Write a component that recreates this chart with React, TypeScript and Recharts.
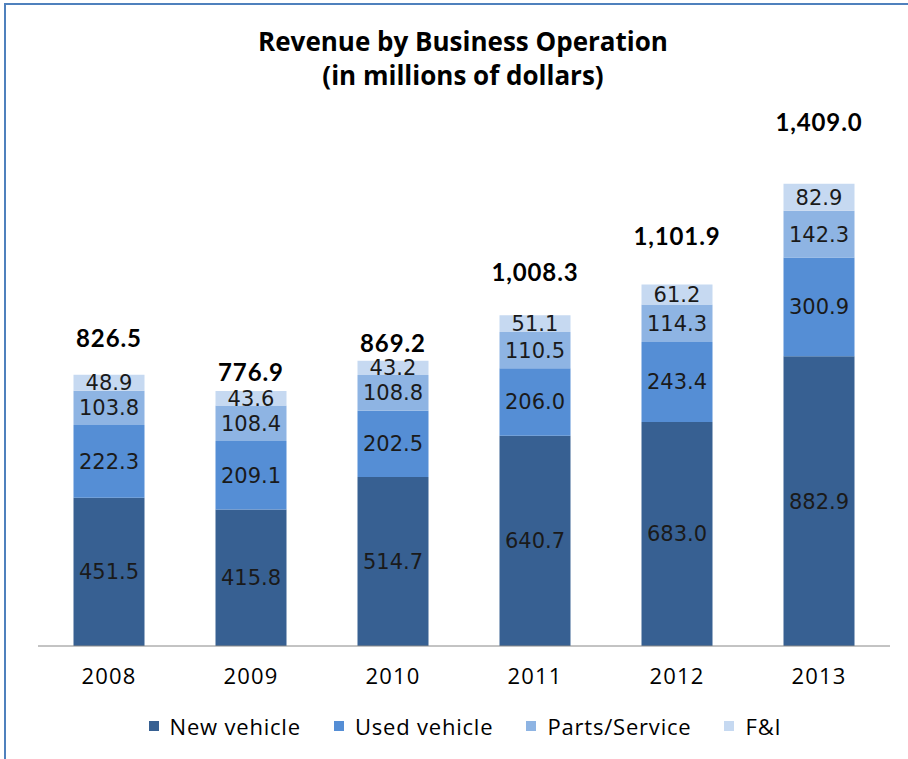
import React from "react";
import { ComposedChart, Bar, Line, XAxis, YAxis, LabelList, Legend } from "recharts";

const years = ["2008", "2009", "2010", "2011", "2012", "2013"];
const newVehicle = [451.5, 415.8, 514.7, 640.7, 683.0, 882.9];
const usedVehicle = [222.3, 209.1, 202.5, 206.0, 243.4, 300.9];
const partsService = [103.8, 108.4, 108.8, 110.5, 114.3, 142.3];
const fAndI = [48.9, 43.6, 43.2, 51.1, 61.2, 82.9];
const totals = [826.5, 776.9, 869.2, 1008.3, 1101.9, 1409.0];
// vertical placement of the total labels, in data units (as placed in the original)
const totalLabelPos = [938, 834, 922, 1137, 1247, 1595];

const seriesNames = ["New vehicle", "Used vehicle", "Parts/Service", "F&I"];
const seriesKeys = ["newVehicle", "usedVehicle", "partsService", "fAndI"];
const seriesColors = ["#376092", "#558ED5", "#8EB4E3", "#C6D9F1"];

const data = years.map((y, i) => ({
  year: y,
  newVehicle: newVehicle[i],
  usedVehicle: usedVehicle[i],
  partsService: partsService[i],
  fAndI: fAndI[i],
  total: totals[i],
  labelPos: totalLabelPos[i],
}));

const sansFont = "'Open Sans', Lato, sans-serif";
const boldFont = "Lato, 'Open Sans', sans-serif";
const labelFont = "'DejaVu Sans', Verdana, sans-serif";

const fmt1 = (v: any) => Number(v).toFixed(1);
const fmtTotal = (v: any) =>
  Number(v).toLocaleString("en-US", { minimumFractionDigits: 1, maximumFractionDigits: 1 });

const LegendContent = () => (
  <div
    style={{
      display: "flex",
      justifyContent: "center",
      alignItems: "center",
      fontFamily: sansFont,
      fontSize: 22,
      letterSpacing: 0.8,
      color: "#000",
      gap: 33,
      height: 26,
      paddingLeft: 22,
    }}
  >
    {seriesNames.map((n, i) => (
      <div key={n} style={{ display: "flex", alignItems: "center" }}>
        <span
          style={{
            display: "inline-block",
            width: 10,
            height: 10,
            background: seriesColors[i],
            marginRight: 11,
          }}
        />
        <span>{n}</span>
      </div>
    ))}
  </div>
);

export default function App() {
  return (
    <div
      style={{
        position: "absolute",
        left: 0,
        top: 0,
        width: 908,
        height: 759,
        background: "#fff",
        overflow: "hidden",
      }}
    >
      <div
        style={{
          position: "absolute",
          left: 4,
          top: 3,
          width: 904,
          height: 756,
          borderLeft: "2px solid #4F81BD",
          borderTop: "2px solid #4F81BD",
        }}
      />
      <div
        style={{
          position: "absolute",
          left: 0,
          top: 24,
          width: 926,
          textAlign: "center",
          fontFamily: sansFont,
          fontWeight: 700,
          fontSize: 26,
          lineHeight: "34px",
          color: "#000",
        }}
      >
        Revenue by Business Operation
        <br />
        (in millions of dollars)
      </div>
      <ComposedChart
        width={908}
        height={759}
        data={data}
        margin={{ top: 121, right: 18, bottom: 0, left: 38 }}
        barCategoryGap="25%"
      >
        <XAxis
          dataKey="year"
          axisLine={{ stroke: "#888888", strokeWidth: 1 }}
          tickLine={false}
          tick={{ fontFamily: sansFont, fontSize: 22, letterSpacing: 1.2, fill: "#000" }}
          tickMargin={16}
          height={87}
          interval={0}
        />
        <XAxis
          xAxisId="top"
          orientation="top"
          dataKey="year"
          axisLine={{ stroke: "#D9D9D9" }}
          tickLine={false}
          tick={false}
          height={0}
        />
        <YAxis
          domain={[0, 1600]}
          axisLine={{ stroke: "#D9D9D9" }}
          tickLine={false}
          tick={false}
          width={0}
        />
        <YAxis
          yAxisId="right"
          orientation="right"
          domain={[0, 1600]}
          axisLine={{ stroke: "#D9D9D9" }}
          tickLine={false}
          tick={false}
          width={0}
        />
        <Legend
          content={<LegendContent />}
          verticalAlign="bottom"
          height={26}
          wrapperStyle={{ bottom: 20, left: 0, width: 908 }}
        />
        {seriesKeys.map((k, i) => (
          <Bar
            key={k}
            dataKey={k}
            name={seriesNames[i]}
            stackId="a"
            fill={seriesColors[i]}
            isAnimationActive={false}
          >
            <LabelList
              dataKey={k}
              position="center"
              formatter={fmt1}
              style={{ fontFamily: labelFont, fontSize: 21, fill: "#1a1a1a" }}
            />
          </Bar>
        ))}
        <Line
          dataKey="labelPos"
          stroke="none"
          dot={false}
          activeDot={false}
          legendType="none"
          isAnimationActive={false}
        >
          <LabelList
            dataKey="total"
            position="center"
            formatter={fmtTotal}
            style={{ fontFamily: boldFont, fontWeight: 700, fontSize: 24, letterSpacing: 0.9, fill: "#000" }}
          />
        </Line>
      </ComposedChart>
    </div>
  );
}
